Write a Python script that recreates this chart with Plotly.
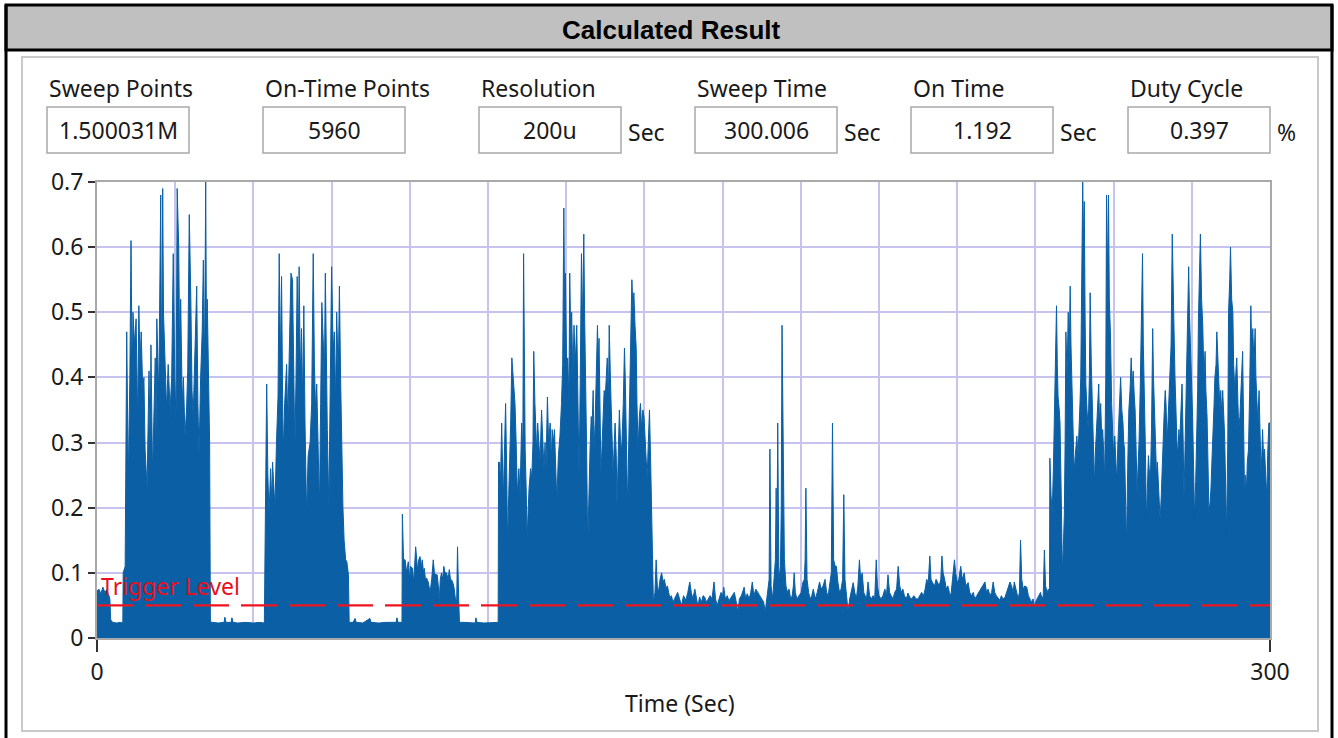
import plotly.graph_objects as go

# ---------------- data ----------------
sweep_points = "1.500031M"
on_time_points = "5960"
resolution = "200u"
sweep_time = "300.006"
on_time = "1.192"
duty_cycle = "0.397"
trigger_level = 0.05

x_ticks = [0, 300]
y_ticks = [0, 0.1, 0.2, 0.3, 0.4, 0.5, 0.6, 0.7]
y_tick_text = ["0", "0.1", "0.2", "0.3", "0.4", "0.5", "0.6", "0.7"]

# (time in s, level) pairs per segment of the trace
lead_in = [(0, 0.072), (0.5, 0.075), (1.0, 0.068), (1.5, 0.078), (2.0, 0.07), (2.5, 0.074),
           (3.0, 0.066), (3.3, 0.06), (3.5, 0.028), (4, 0.024), (5, 0.023), (6, 0.024),
           (6.6, 0.023), (6.7, 0.1), (7.2, 0.11)]

burst_1 = [(7.6, 0.47), (8.0, 0.24), (8.4, 0.40), (8.7, 0.61), (9.0, 0.40), (9.2, 0.50), (9.6, 0.45),
           (10.0, 0.49), (10.4, 0.33), (10.7, 0.51), (11.0, 0.42), (11.3, 0.47), (11.7, 0.38),
           (12.0, 0.40), (12.3, 0.29), (12.8, 0.23), (13.3, 0.41), (13.6, 0.30), (13.8, 0.45),
           (14.2, 0.25), (14.6, 0.36), (14.9, 0.43), (15.1, 0.30), (15.3, 0.49), (15.8, 0.37),
           (16.3, 0.68), (16.5, 0.38), (16.8, 0.69), (17.0, 0.50), (17.3, 0.45), (17.8, 0.35),
           (18.2, 0.42), (18.7, 0.35), (19.1, 0.40), (19.5, 0.59), (19.9, 0.40), (20.2, 0.33),
           (20.5, 0.69), (20.9, 0.60), (21.2, 0.40), (21.4, 0.52), (21.8, 0.36), (22.1, 0.40),
           (22.5, 0.31), (22.9, 0.35), (23.2, 0.41), (23.6, 0.65), (24.0, 0.52), (24.3, 0.38),
           (24.6, 0.34), (25.0, 0.42), (25.5, 0.54), (25.8, 0.36), (26.1, 0.28), (26.5, 0.40),
           (26.9, 0.47), (27.2, 0.58), (27.5, 0.41), (27.8, 0.70), (28.0, 0.46), (28.2, 0.52),
           (28.5, 0.38), (28.8, 0.30), (29.0, 0.025)]

gap_1 = [(29.5, 0.024), (31, 0.023), (32.5, 0.024), (32.7, 0.032), (33, 0.024), (34.3, 0.024),
         (34.5, 0.031), (34.8, 0.024), (36, 0.023), (38, 0.024), (40, 0.023), (41.5, 0.024),
         (42.8, 0.023), (43.0, 0.15)]

burst_2 = [(43.4, 0.39), (43.7, 0.25), (44.0, 0.19), (44.4, 0.26), (44.7, 0.21), (44.9, 0.27),
           (45.2, 0.22), (45.5, 0.20), (45.9, 0.30), (46.3, 0.37), (46.6, 0.59), (46.9, 0.42),
           (47.2, 0.555), (47.6, 0.28), (48.0, 0.36), (48.5, 0.42), (48.8, 0.33), (49.2, 0.46),
           (49.6, 0.56), (50.0, 0.55), (50.3, 0.38), (50.6, 0.29), (50.9, 0.40), (51.2, 0.555),
           (51.5, 0.44), (51.7, 0.57), (52.0, 0.40), (52.3, 0.475), (52.6, 0.36), (52.9, 0.51),
           (53.2, 0.33), (53.6, 0.19), (54.0, 0.28), (54.5, 0.30), (54.9, 0.36), (55.3, 0.59),
           (55.6, 0.42), (55.9, 0.35), (56.2, 0.39), (56.6, 0.30), (56.9, 0.20), (57.2, 0.36),
           (57.5, 0.515), (57.9, 0.45), (58.1, 0.36), (58.4, 0.56), (58.7, 0.40), (58.9, 0.32),
           (59.3, 0.20), (59.7, 0.38), (60.0, 0.57), (60.4, 0.44), (60.7, 0.47), (61.0, 0.36),
           (61.3, 0.50), (61.7, 0.40), (62.0, 0.54), (62.3, 0.40), (62.6, 0.28), (62.9, 0.20),
           (63.2, 0.15), (63.6, 0.12), (63.9, 0.117), (64.3, 0.097), (64.5, 0.024)]

gap_2 = [(65.5, 0.024), (66.0, 0.03), (66.3, 0.024), (68, 0.023), (69.8, 0.03), (70.1, 0.024),
         (72, 0.023), (74, 0.024), (76.5, 0.024), (76.7, 0.031), (77.0, 0.024), (78.0, 0.024),
         (78.1, 0.19)]

burst_3 = [(78.4, 0.12), (78.8, 0.12), (79.2, 0.10), (79.6, 0.117), (80.0, 0.09), (80.2, 0.11),
           (80.7, 0.107), (81.0, 0.085), (81.5, 0.14), (81.8, 0.11), (82.0, 0.104), (82.3, 0.12),
           (82.6, 0.125), (83.0, 0.11), (83.2, 0.12), (83.5, 0.10), (83.7, 0.107), (84.0, 0.09),
           (84.3, 0.092), (84.7, 0.086), (85.0, 0.078), (85.2, 0.07), (85.6, 0.09), (86.0, 0.12),
           (86.3, 0.10), (86.6, 0.097), (87.0, 0.097), (87.3, 0.08), (87.5, 0.055), (87.8, 0.09),
           (88.1, 0.10), (88.4, 0.09), (88.7, 0.11), (89.0, 0.1), (89.4, 0.10), (89.8, 0.09),
           (90.1, 0.105), (90.4, 0.09), (90.7, 0.089), (91.0, 0.085), (91.3, 0.078), (91.7, 0.058),
           (92.0, 0.06), (92.2, 0.14), (92.5, 0.06), (92.7, 0.024)]

gap_3 = [(94, 0.024), (96.7, 0.023), (96.9, 0.031), (97.2, 0.024), (99, 0.023), (101, 0.024),
         (102.6, 0.024), (102.7, 0.27)]

burst_4 = [(102.9, 0.27), (103.2, 0.24), (103.5, 0.33), (103.9, 0.21), (104.2, 0.28), (104.5, 0.36),
           (104.8, 0.25), (105.0, 0.14), (105.3, 0.22), (105.5, 0.29), (105.8, 0.33), (106.1, 0.43),
           (106.5, 0.39), (106.9, 0.36), (107.2, 0.30), (107.5, 0.22), (107.9, 0.26), (108.2, 0.22),
           (108.6, 0.33), (108.9, 0.28), (109.1, 0.59), (109.3, 0.36), (109.5, 0.29), (109.8, 0.22),
           (110.0, 0.15), (110.3, 0.20), (110.5, 0.23), (110.9, 0.26), (111.2, 0.245), (111.5, 0.30),
           (111.7, 0.44), (112.0, 0.36), (112.2, 0.33), (112.5, 0.28), (112.7, 0.33), (113.0, 0.30),
           (113.3, 0.27), (113.7, 0.35), (114.0, 0.30), (114.3, 0.26), (114.6, 0.30), (114.8, 0.25),
           (115.2, 0.37), (115.5, 0.30), (115.9, 0.33), (116.2, 0.27), (116.4, 0.32), (116.7, 0.30),
           (117.0, 0.32), (117.3, 0.26), (117.6, 0.21), (118.0, 0.28), (118.4, 0.31), (118.8, 0.36),
           (119.1, 0.42), (119.4, 0.66), (119.6, 0.50), (119.8, 0.56), (120.1, 0.42), (120.4, 0.43),
           (120.7, 0.36), (120.9, 0.56), (121.2, 0.45), (121.4, 0.50), (121.7, 0.40), (122.0, 0.48),
           (122.3, 0.42), (122.7, 0.48), (123.0, 0.36), (123.3, 0.247), (123.6, 0.40), (123.9, 0.59),
           (124.2, 0.48), (124.5, 0.62), (124.7, 0.50), (124.9, 0.44), (125.2, 0.30), (125.5, 0.14),
           (125.8, 0.25), (126.1, 0.29), (126.4, 0.34), (126.6, 0.32), (126.9, 0.38), (127.1, 0.29),
           (127.4, 0.33), (127.6, 0.37), (128.0, 0.48), (128.2, 0.42), (128.4, 0.46), (128.7, 0.33),
           (128.9, 0.25), (129.2, 0.30), (129.4, 0.33), (129.7, 0.38), (130.0, 0.37), (130.3, 0.42),
           (130.5, 0.43), (130.8, 0.36), (131.0, 0.48), (131.3, 0.40), (131.6, 0.32), (131.8, 0.28),
           (132.0, 0.25), (132.3, 0.30), (132.5, 0.33), (132.8, 0.28), (133.0, 0.20), (133.3, 0.28),
           (133.6, 0.35), (133.9, 0.30), (134.2, 0.29), (134.6, 0.36), (134.9, 0.445), (135.1, 0.40),
           (135.3, 0.33), (135.5, 0.26), (135.7, 0.20), (136.0, 0.30), (136.3, 0.39), (136.6, 0.45),
           (136.8, 0.55), (137.1, 0.50), (137.3, 0.53), (137.6, 0.48), (137.9, 0.445), (138.1, 0.36),
           (138.4, 0.29), (138.7, 0.34), (139.0, 0.36), (139.3, 0.32), (139.6, 0.35), (139.9, 0.34),
           (140.2, 0.31), (140.5, 0.28), (140.7, 0.245), (141.0, 0.30), (141.3, 0.35), (141.6, 0.27),
           (141.8, 0.20), (142.1, 0.12), (142.3, 0.055)]

tail_4 = [(142.7, 0.07), (143.0, 0.12), (143.3, 0.08), (143.6, 0.07), (144.0, 0.09), (144.4, 0.10),
          (144.8, 0.086), (145.1, 0.09), (145.5, 0.077), (145.9, 0.08), (146.2, 0.07), (146.5, 0.062),
          (146.9, 0.065), (147.3, 0.055), (147.7, 0.06), (148.1, 0.065), (148.5, 0.07)]

middle = [(149.0, 0.06), (149.5, 0.05), (150.0, 0.065), (150.6, 0.058), (151.1, 0.07), (151.6, 0.086),
          (152.0, 0.07), (152.4, 0.06), (152.9, 0.075), (153.3, 0.058), (153.7, 0.048), (154.1, 0.063),
          (154.6, 0.055), (155.0, 0.065), (155.4, 0.063), (155.9, 0.055), (156.3, 0.06), (156.8, 0.065),
          (157.3, 0.06), (157.8, 0.086), (158.2, 0.06), (158.6, 0.05), (159.1, 0.06), (159.6, 0.07),
          (160.0, 0.065), (160.3, 0.078), (160.7, 0.06), (161.2, 0.065), (161.6, 0.057), (162.1, 0.062),
          (162.6, 0.068), (163.0, 0.07), (163.5, 0.055), (163.9, 0.04), (164.3, 0.06), (164.8, 0.065),
          (165.2, 0.072), (165.5, 0.078), (165.9, 0.06), (166.3, 0.068), (166.8, 0.06), (167.2, 0.07),
          (167.6, 0.086), (168.0, 0.065), (168.5, 0.075), (169.1, 0.07), (169.5, 0.065), (170.0, 0.06),
          (170.5, 0.055), (170.9, 0.04), (171.3, 0.06), (171.6, 0.078), (171.9, 0.09), (172.1, 0.29),
          (172.4, 0.08), (172.8, 0.06), (173.2, 0.09), (173.5, 0.12), (173.7, 0.23), (173.9, 0.13),
          (174.1, 0.33), (174.4, 0.09), (174.8, 0.11), (175.0, 0.20), (175.2, 0.48), (175.4, 0.38),
          (175.5, 0.35), (175.8, 0.12), (176.2, 0.08), (176.6, 0.07), (177.0, 0.075), (177.4, 0.06),
          (177.8, 0.065), (178.1, 0.08), (178.3, 0.10), (178.6, 0.07), (179.0, 0.06), (179.5, 0.065),
          (180.1, 0.07), (180.5, 0.085), (180.9, 0.09), (181.1, 0.12), (181.3, 0.23), (181.6, 0.09),
          (182.0, 0.07), (182.4, 0.06), (182.8, 0.065), (183.2, 0.075), (183.7, 0.06), (184.2, 0.07),
          (184.8, 0.086), (185.2, 0.075), (185.7, 0.08), (186.2, 0.09), (186.6, 0.07), (187.0, 0.065),
          (187.4, 0.08), (187.8, 0.1), (188.1, 0.33), (188.4, 0.12), (188.8, 0.11), (189.1, 0.11),
          (189.5, 0.085), (189.9, 0.07), (190.3, 0.075), (190.7, 0.09), (191.0, 0.22), (191.3, 0.09),
          (191.7, 0.065), (192.1, 0.04), (192.5, 0.06), (192.9, 0.07), (193.4, 0.085), (193.8, 0.07),
          (194.2, 0.06), (194.6, 0.08), (195.0, 0.12), (195.3, 0.09), (195.7, 0.1), (196.1, 0.07),
          (196.5, 0.065), (196.8, 0.06), (197.2, 0.086), (197.6, 0.065), (198.0, 0.06), (198.5, 0.065),
          (198.9, 0.06), (199.3, 0.12), (199.6, 0.08), (200.0, 0.065), (200.5, 0.06), (201.0, 0.065),
          (201.5, 0.075), (201.9, 0.065), (202.3, 0.097), (202.7, 0.07), (203.1, 0.065), (203.6, 0.06),
          (204.0, 0.07), (204.5, 0.075), (204.9, 0.11), (205.3, 0.08), (205.7, 0.07), (206.1, 0.075),
          (206.5, 0.065), (207.0, 0.06), (207.4, 0.069), (207.9, 0.062), (208.4, 0.06), (208.9, 0.065),
          (209.5, 0.06), (210.0, 0.06), (210.4, 0.065), (210.9, 0.07), (211.4, 0.065), (211.8, 0.075),
          (212.2, 0.09), (212.6, 0.085), (213.0, 0.126), (213.3, 0.09), (213.7, 0.085), (214.2, 0.08),
          (214.6, 0.09), (215.0, 0.085), (215.4, 0.08), (215.8, 0.09), (216.1, 0.126), (216.4, 0.1),
          (216.8, 0.09), (217.2, 0.075), (217.6, 0.08), (218.0, 0.07), (218.4, 0.065), (218.8, 0.09),
          (219.3, 0.12), (219.6, 0.1), (220.0, 0.085), (220.4, 0.09), (220.9, 0.11), (221.3, 0.09),
          (221.8, 0.10), (222.2, 0.08), (222.8, 0.085), (223.2, 0.07), (223.7, 0.065), (224.1, 0.07),
          (224.5, 0.06), (225.0, 0.065), (225.5, 0.07), (226.0, 0.075), (226.5, 0.08), (227.1, 0.086),
          (227.5, 0.07), (227.9, 0.075), (228.4, 0.065), (228.8, 0.07), (229.2, 0.086), (229.6, 0.07),
          (230.0, 0.065), (230.5, 0.06), (230.9, 0.058), (231.3, 0.065), (231.7, 0.06), (232.2, 0.062),
          (232.6, 0.07), (233.0, 0.075), (233.5, 0.086), (233.9, 0.08), (234.3, 0.07), (234.6, 0.086),
          (235.0, 0.075), (235.3, 0.065), (235.6, 0.06), (235.9, 0.07), (236.2, 0.15), (236.5, 0.09),
          (236.9, 0.075), (237.3, 0.08), (237.8, 0.078), (238.2, 0.065), (238.6, 0.06), (239.0, 0.055),
          (239.4, 0.06), (239.7, 0.048), (240.0, 0.055), (240.4, 0.06), (240.9, 0.065), (241.3, 0.07),
          (241.7, 0.06), (242.0, 0.065), (242.3, 0.135), (242.6, 0.08), (243.0, 0.07), (243.3, 0.075),
          (243.6, 0.07)]

burst_5 = [(243.7, 0.276), (244.0, 0.22), (244.3, 0.19), (244.6, 0.26), (244.8, 0.32), (245.1, 0.38),
           (245.4, 0.51), (245.6, 0.42), (245.8, 0.37), (246.1, 0.35), (246.3, 0.33), (246.6, 0.22),
           (246.9, 0.10), (247.2, 0.15), (247.4, 0.19), (247.6, 0.30), (247.8, 0.47), (248.1, 0.40),
           (248.4, 0.50), (248.6, 0.42), (248.9, 0.54), (249.1, 0.45), (249.4, 0.38), (249.7, 0.30),
           (249.9, 0.255), (250.2, 0.28), (250.6, 0.31), (250.9, 0.28), (251.2, 0.32), (251.4, 0.36),
           (251.6, 0.40), (251.9, 0.55), (252.1, 0.70), (252.3, 0.60), (252.5, 0.67), (252.7, 0.50),
           (252.9, 0.39), (253.2, 0.35), (253.5, 0.32), (253.8, 0.40), (254.0, 0.53), (254.3, 0.42),
           (254.5, 0.37), (254.8, 0.30), (255.1, 0.235), (255.3, 0.28), (255.6, 0.32), (255.9, 0.35),
           (256.2, 0.39), (256.4, 0.33), (256.7, 0.36), (257.0, 0.30), (257.2, 0.32), (257.5, 0.28),
           (257.7, 0.24), (258.0, 0.40), (258.2, 0.68), (258.4, 0.55), (258.7, 0.68), (258.9, 0.52),
           (259.2, 0.465), (259.5, 0.36), (259.8, 0.31), (260.0, 0.28), (260.3, 0.31), (260.6, 0.27),
           (260.8, 0.24), (261.1, 0.30), (261.3, 0.33), (261.6, 0.36), (261.8, 0.40), (262.1, 0.35),
           (262.4, 0.33), (262.6, 0.30), (262.8, 0.29), (263.1, 0.20), (263.3, 0.14), (263.6, 0.26),
           (263.9, 0.35), (264.2, 0.38), (264.5, 0.43), (264.7, 0.38), (265.0, 0.41), (265.3, 0.37),
           (265.5, 0.35), (265.8, 0.28), (266.0, 0.22), (266.3, 0.27), (266.5, 0.30), (266.8, 0.38),
           (267.0, 0.46), (267.2, 0.50), (267.4, 0.59), (267.6, 0.45), (267.8, 0.40), (268.1, 0.30),
           (268.4, 0.18), (268.6, 0.24), (268.9, 0.28), (269.1, 0.26), (269.4, 0.24), (269.7, 0.32),
           (270.0, 0.475), (270.2, 0.40), (270.5, 0.34), (270.7, 0.28), (271.0, 0.245), (271.2, 0.27),
           (271.5, 0.235), (271.7, 0.21), (271.9, 0.18), (272.2, 0.22), (272.4, 0.26), (272.7, 0.30),
           (272.9, 0.34), (273.2, 0.38), (273.4, 0.36), (273.7, 0.30), (273.9, 0.33), (274.2, 0.37),
           (274.5, 0.415), (274.7, 0.45), (275.0, 0.62), (275.2, 0.52), (275.4, 0.49), (275.7, 0.40),
           (275.9, 0.34), (276.2, 0.30), (276.4, 0.28), (276.7, 0.32), (276.9, 0.30), (277.2, 0.35),
           (277.5, 0.39), (277.8, 0.30), (278.0, 0.21), (278.3, 0.30), (278.5, 0.36), (278.7, 0.415),
           (279.0, 0.48), (279.2, 0.57), (279.4, 0.50), (279.7, 0.445), (280.0, 0.38), (280.2, 0.34),
           (280.5, 0.25), (280.7, 0.185), (281.0, 0.24), (281.2, 0.29), (281.5, 0.38), (281.7, 0.49),
           (282.0, 0.55), (282.2, 0.62), (282.5, 0.52), (282.8, 0.48), (283.1, 0.40), (283.4, 0.44),
           (283.6, 0.38), (283.9, 0.34), (284.1, 0.28), (284.4, 0.19), (284.7, 0.21), (284.9, 0.23),
           (285.2, 0.28), (285.4, 0.33), (285.7, 0.36), (285.9, 0.40), (286.2, 0.42), (286.4, 0.47),
           (286.7, 0.42), (286.9, 0.39), (287.2, 0.35), (287.4, 0.38), (287.7, 0.34), (287.9, 0.38),
           (288.2, 0.34), (288.4, 0.31), (288.7, 0.22), (288.9, 0.158), (289.2, 0.30), (289.4, 0.50),
           (289.7, 0.55), (289.9, 0.60), (290.2, 0.52), (290.5, 0.50), (290.7, 0.42), (291.0, 0.38),
           (291.2, 0.40), (291.5, 0.43), (291.8, 0.36), (292.0, 0.32), (292.3, 0.34), (292.5, 0.37),
           (292.8, 0.40), (293.0, 0.44), (293.2, 0.35), (293.5, 0.21), (293.7, 0.25), (294.0, 0.23),
           (294.2, 0.27), (294.5, 0.29), (294.8, 0.38), (295.1, 0.51), (295.3, 0.45), (295.6, 0.475),
           (295.9, 0.42), (296.2, 0.475), (296.4, 0.40), (296.7, 0.36), (296.9, 0.33), (297.2, 0.38),
           (297.4, 0.30), (297.7, 0.255), (297.9, 0.28), (298.1, 0.32), (298.4, 0.27), (298.6, 0.29),
           (298.9, 0.25), (299.2, 0.215), (299.4, 0.28), (299.7, 0.33), (300.0, 0.33)]

segments = [lead_in, burst_1, gap_1, burst_2, gap_2, burst_3, gap_3, burst_4, tail_4, middle, burst_5]
time_s = [p[0] for seg in segments for p in seg]
level = [p[1] for seg in segments for p in seg]

# ---------------- layout helpers ----------------
W, H = 1338, 738


def fx(px):
    return px / W


def fy(py):
    return 1 - py / H


UI_FONT = "Noto Sans"
FS = 23
BLUE = "#0a5fa5"
GRID = "#c6c3ee"
TXT = "#1a1a1a"

fig = go.Figure()
fig.add_trace(go.Scatter(x=time_s, y=level, mode="lines", line=dict(color=BLUE, width=1),
                         fill="tozeroy", fillcolor=BLUE, hoverinfo="skip", showlegend=False))
fig.add_trace(go.Scatter(x=[0, 300], y=[trigger_level, trigger_level], mode="lines",
                         line=dict(color="#ee1520", width=2.2, dash="36px,12px"),
                         hoverinfo="skip", showlegend=False))

shapes = []
# outer black frame and title bar
shapes.append(dict(type="rect", xref="paper", yref="paper", x0=fx(6), x1=fx(1332), y0=fy(50), y1=fy(5),
                   fillcolor="#c0c0c0", line=dict(color="black", width=3), layer="below"))
shapes.append(dict(type="line", xref="paper", yref="paper", x0=fx(6), x1=fx(6), y0=fy(5), y1=0,
                   line=dict(color="black", width=3)))
shapes.append(dict(type="line", xref="paper", yref="paper", x0=fx(1332), x1=fx(1332), y0=fy(5), y1=0,
                   line=dict(color="black", width=3)))
# inner panel
shapes.append(dict(type="rect", xref="paper", yref="paper", x0=fx(22), x1=fx(1318), y0=fy(731), y1=fy(57),
                   fillcolor="white", line=dict(color="#c9c9c9", width=2), layer="below"))

annotations = [dict(text="<b>Calculated Result</b>", xref="paper", yref="paper", x=fx(671), y=fy(30),
                    showarrow=False, font=dict(family="Liberation Sans, Arial", size=26, color="black"),
                    xanchor="center", yanchor="middle")]

fields = [("Sweep Points", sweep_points, 47, ""), ("On-Time Points", on_time_points, 263, ""),
          ("Resolution", resolution, 479, "Sec"), ("Sweep Time", sweep_time, 695, "Sec"),
          ("On Time", on_time, 911, "Sec"), ("Duty Cycle", duty_cycle, 1128, "%")]
for label, value, left, unit in fields:
    shapes.append(dict(type="rect", xref="paper", yref="paper", x0=fx(left), x1=fx(left + 142),
                       y0=fy(153), y1=fy(107), fillcolor="white", line=dict(color="#a9a9a9", width=1.5)))
    annotations.append(dict(text=label, xref="paper", yref="paper", x=fx(left), y=fy(88),
                            showarrow=False, xanchor="left", yanchor="middle",
                            font=dict(family=UI_FONT, size=FS, color=TXT)))
    annotations.append(dict(text=value, xref="paper", yref="paper", x=fx(left + 71), y=fy(130),
                            showarrow=False, xanchor="center", yanchor="middle",
                            font=dict(family=UI_FONT, size=FS, color=TXT)))
    if unit:
        annotations.append(dict(text=unit, xref="paper", yref="paper", x=fx(left + 147), y=fy(132),
                                showarrow=False, xanchor="left", yanchor="middle",
                                font=dict(family=UI_FONT, size=FS, color=TXT)))

annotations.append(dict(text="Time (Sec)", xref="paper", yref="paper", x=fx(680), y=fy(703),
                        showarrow=False, xanchor="center", yanchor="middle",
                        font=dict(family=UI_FONT, size=FS, color=TXT)))
annotations.append(dict(text="Trigger Level", xref="x", yref="y", x=0.4, y=trigger_level,
                        yshift=1, showarrow=False, xanchor="left", yanchor="bottom",
                        font=dict(family=UI_FONT, size=FS, color="#e8101c")))

fig.update_layout(
    template="none",
    width=W, height=H, autosize=False,
    margin=dict(l=0, r=0, t=0, b=0, pad=0),
    paper_bgcolor="white", plot_bgcolor="#f3f7f9",
    showlegend=False,
    shapes=shapes, annotations=annotations,
    xaxis=dict(domain=[fx(97), fx(1270)], range=[0, 300], tickvals=x_ticks, automargin=False,
               ticktext=[str(v) for v in x_ticks], ticks="outside", ticklen=12, tickwidth=2,
               tickcolor="#333", showline=True, linecolor="#a9a9a9", linewidth=2, mirror=True,
               showgrid=False, zeroline=False,
               minor=dict(dtick=20, tick0=0, showgrid=True, gridcolor=GRID, gridwidth=2, ticks=""),
               tickfont=dict(family=UI_FONT, size=FS, color=TXT)),
    yaxis=dict(domain=[fy(638), fy(182)], range=[0, 0.7], tickvals=y_ticks, ticktext=y_tick_text,
               automargin=False, ticks="outside", ticklen=7, tickwidth=2, tickcolor="#333",
               showline=True, linecolor="#a9a9a9", linewidth=2, mirror=True,
               showgrid=True, gridcolor=GRID, gridwidth=2, zeroline=False,
               tickfont=dict(family=UI_FONT, size=FS, color=TXT)),
)

fig.write_html("out.html", config={"displayModeBar": False, "staticPlot": True},
               post_script="document.body.style.margin='0';")
